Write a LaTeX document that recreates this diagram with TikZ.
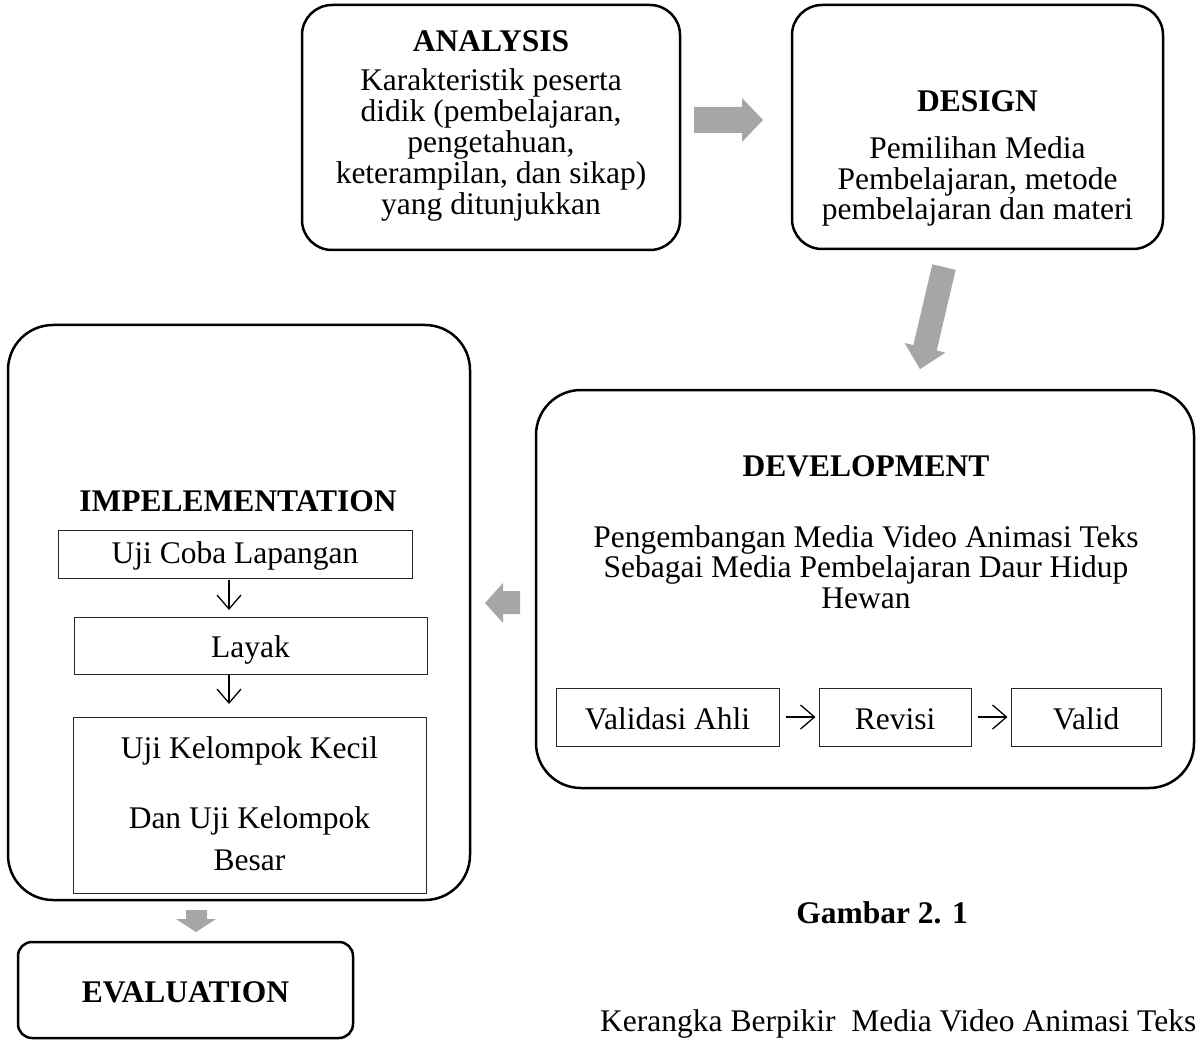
\documentclass[tikz,border=0pt]{standalone}
\usepackage{fontspec}
\setmainfont{Liberation Serif}
\usetikzlibrary{arrows.meta}
\definecolor{arrgray}{HTML}{A6A6A6}
\begin{document}
\begin{tikzpicture}[x=1pt,y=-1pt,
  bigbox/.style={draw=black, line width=2.5pt, inner sep=0pt},
  smallbox/.style={draw=black!85, line width=1pt, inner sep=0pt},
  txt/.style={font=\fontsize{31.5}{32}\selectfont, anchor=base, inner sep=0pt},
  ttl/.style={font=\bfseries\fontsize{31.5}{32}\selectfont, anchor=base, inner sep=0pt},
  thinarr/.style={-{Straight Barb[length=14pt,width=24pt,line width=1.3pt]}, line width=1.3pt},
  blockarr/.style={fill=arrgray, draw=none}]
\useasboundingbox (0,0) rectangle (1196,1040);
\clip (0,0) rectangle (1196,1040);

% ANALYSIS
\node[bigbox, rounded corners=30pt, minimum width=378pt, minimum height=245pt] (analysis) at (491,127.5) {};
\node[ttl] (at) at (491,52) {ANALYSIS};
\node[txt] (a1) at (491,91) {Karakteristik peserta};
\node[txt] (a2) at (491,122) {didik (pembelajaran,};
\node[txt] (a3) at (491,153) {pengetahuan,};
\node[txt] (a4) at (491,184) {keterampilan, dan sikap)};
\node[txt] (a5) at (491,215) {yang ditunjukkan};

% DESIGN
\node[bigbox, rounded corners=30pt, minimum width=371pt, minimum height=244pt] (design) at (977.5,127) {};
\node[ttl] (dt) at (977.5,112) {DESIGN};
\node[txt] (d1) at (977.5,159) {Pemilihan Media};
\node[txt] (d2) at (977.5,189.5) {Pembelajaran, metode};
\node[txt] (d3) at (977.5,220) {pembelajaran dan materi};

% DEVELOPMENT
\node[bigbox, rounded corners=45pt, minimum width=658pt, minimum height=398pt] (dev) at (865,589) {};
\node[ttl] (vt) at (866,476) {DEVELOPMENT};
\node[txt] (v1) at (866,547) {Pengembangan Media Video Animasi Teks};
\node[txt] (v2) at (866,577.5) {Sebagai Media Pembelajaran Daur Hidup};
\node[txt] (v3) at (866,608) {Hewan};
\node[smallbox, minimum width=223pt, minimum height=58pt] (val) at (667.5,717) {};
\node[txt] (valt) at (667.5,729) {Validasi Ahli};
\node[smallbox, minimum width=152pt, minimum height=58pt] (rev) at (895,717) {};
\node[txt] (revt) at (895,729) {Revisi};
\node[smallbox, minimum width=150pt, minimum height=58pt] (vld) at (1086,717) {};
\node[txt] (vldt) at (1086,729) {Valid};
\draw[thinarr] ([xshift=6pt]val.east) -- ([xshift=-3pt]rev.west);
\draw[thinarr] ([xshift=6pt]rev.east) -- ([xshift=-3pt]vld.west);

% IMPLEMENTATION
\node[bigbox, rounded corners=45pt, minimum width=462pt, minimum height=575pt] (impl) at (239,612.5) {};
\node[ttl] (it) at (238,511) {IMPELEMENTATION};
\node[smallbox, minimum width=354pt, minimum height=48pt] (uji) at (235,554) {};
\node[txt] (ujit) at (235,563) {Uji Coba Lapangan};
\node[smallbox, minimum width=353pt, minimum height=57pt] (layak) at (250.5,645.5) {};
\node[txt] (layakt) at (250.5,657) {Layak};
\node[smallbox, minimum width=353pt, minimum height=176pt] (kel) at (249.5,805) {};
\node[txt] (k1) at (249.5,758) {Uji Kelompok Kecil};
\node[txt] (k2) at (249.5,828) {Dan Uji Kelompok};
\node[txt] (k3) at (249.5,870) {Besar};
\coordinate (u1) at (229,580);
\coordinate (u2) at (229,610);
\coordinate (l1) at (229,675);
\coordinate (l2) at (229,704);
\draw[thinarr] (u1) -- (u2);
\draw[thinarr] (l1) -- (l2);

% EVALUATION
\node[bigbox, rounded corners=14pt, minimum width=335pt, minimum height=96pt] (eval) at (185.5,990) {};
\node[ttl] (et) at (185.5,1002) {EVALUATION};

% block arrows
\fill[blockarr] (694,107) -- (742,107) -- (742,98) -- (763,120) -- (742,142) -- (742,133) -- (694,133) -- cycle;
\fill[blockarr] (955.7,269.8) -- (936.7,350.5) -- (945.4,352.6) -- (920.0,369.2) -- (904.6,343.0) -- (913.3,345.1) -- (932.3,264.3) -- cycle;
\fill[blockarr] (520,591) -- (503,591) -- (503,583) -- (485,603) -- (503,623) -- (503,614) -- (520,614) -- cycle;
\fill[blockarr] (186,910) -- (207,910) -- (207,919) -- (216,919) -- (196,932) -- (176,919) -- (186,919) -- cycle;

% caption
\node[ttl] (cap1) at (882,923) {Gambar 2. 1};
\node[txt, anchor=base west] (cap2) at (600,1031) {Kerangka Berpikir\ \ Media Video Animasi Teks};
\end{tikzpicture}
\end{document}
